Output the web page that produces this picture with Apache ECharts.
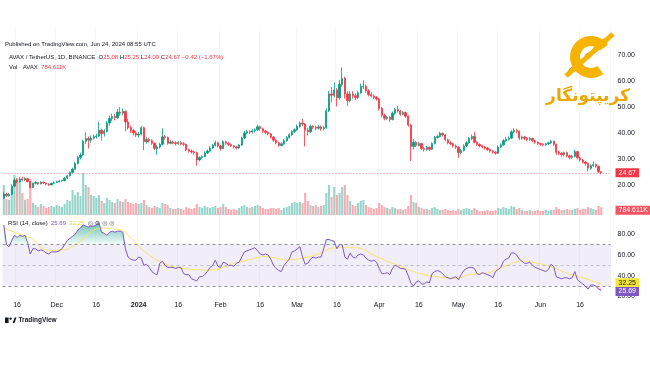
<!DOCTYPE html>
<html><head><meta charset="utf-8">
<script src="https://cdn.jsdelivr.net/npm/echarts@6.0.0/dist/echarts.min.js"></script>
<style>html,body{margin:0;padding:0;background:#fff}#c{width:650px;height:365px}</style>
</head><body><div id="c"></div><script>
// ---- data (AVAX/USDT daily, 2023-11-11 .. 2024-06-24) ----
const startDate = [2023, 10, 11];
const firstOpen = 14.9;
const closes = [
16.5,15.8,16.3,19.5,21.8,21.2,22.3,21.9,22.4,21.3,19.0,20.6,20.9,20.4,21.0,20.7,20.3,20.0,20.6,20.9,
21.2,21.5,21.6,22.6,23.5,24.8,26.0,28.2,30.5,31.5,36.8,37.8,37.2,38.0,38.5,38.8,41.0,39.8,40.6,43.8,45.5,46.3,45.8,48.0,47.6,48.3,44.2,42.0,40.9,40.0,39.2,
39.5,42.0,36.6,37.5,37.0,36.0,34.0,34.6,35.6,38.5,38.2,36.0,36.5,36.2,35.9,36.3,35.8,35.6,33.5,33.0,32.7,32.4,29.6,30.5,30.9,32.3,33.0,34.2,35.2,36.2,35.0,
34.0,36.6,36.0,35.5,35.0,34.6,34.2,35.3,38.0,40.0,40.5,40.3,40.8,41.2,42.4,41.6,40.7,40.2,39.6,38.4,37.2,36.2,35.2,35.8,37.0,38.2,39.3,40.5,41.2,
42.5,43.8,43.4,41.0,40.4,42.5,42.2,41.8,42.3,41.6,42.0,48.5,55.0,54.5,56.5,53.5,58.6,61.0,55.0,52.4,55.0,54.3,53.6,55.4,57.8,58.0,56.2,54.8,54.2,53.6,53.0,
49.5,46.8,45.6,46.0,45.2,47.6,49.0,48.4,47.2,47.8,46.4,43.0,34.8,36.4,35.2,35.9,34.0,33.6,34.4,33.7,35.9,38.2,38.6,39.8,39.2,37.4,36.2,35.8,35.0,34.5,
32.4,33.2,35.0,36.2,37.8,38.6,36.4,35.6,35.0,34.6,34.2,33.6,33.0,32.6,32.2,34.6,35.4,37.0,37.6,38.0,40.4,41.0,40.6,38.0,38.4,37.9,37.5,37.8,37.0,36.4,35.9,
35.6,35.4,35.8,36.2,36.8,35.6,32.6,32.2,31.6,32.4,31.2,30.6,31.0,32.8,30.4,29.6,28.8,28.2,26.4,27.4,27.8,27.2,25.08,24.67];
const highs = [
17.2,17.0,16.9,20.2,22.6,22.4,23.0,23.2,22.9,22.7,21.5,20.9,21.4,21.1,21.4,21.3,20.9,20.6,20.9,21.3,
21.6,21.9,22.0,23.0,23.9,25.2,26.6,28.8,31.2,32.4,37.4,40.2,38.6,39.0,39.4,39.8,44.2,41.6,41.4,44.6,46.6,47.4,47.2,49.2,49.9,49.4,48.6,45.4,42.8,41.6,40.8,
40.4,42.6,42.4,38.4,38.2,37.6,36.4,35.4,36.2,41.8,39.2,38.6,37.2,37.0,36.8,36.9,36.8,36.4,35.9,34.0,33.6,33.2,32.8,31.0,31.4,32.8,33.6,34.8,35.8,37.0,36.6,
35.4,37.2,37.0,36.4,35.9,35.4,35.0,35.8,38.6,40.8,41.2,41.0,41.4,41.8,43.2,42.8,42.0,41.2,40.6,40.0,38.8,37.6,36.6,36.4,37.6,38.8,39.8,41.0,41.8,
43.2,44.4,45.4,43.8,42.0,43.2,43.0,42.8,43.0,42.8,42.6,49.4,56.2,57.6,59.4,57.2,60.4,65.2,61.6,56.0,56.2,56.0,55.2,56.2,59.0,60.2,58.6,56.8,55.6,54.8,54.2,
53.4,50.0,47.4,46.6,46.4,48.2,49.6,50.4,48.8,48.4,48.2,46.8,43.4,37.6,37.0,36.6,36.2,34.6,35.0,34.8,36.4,38.8,39.4,40.4,40.2,39.6,37.8,36.8,36.2,35.6,
34.8,33.8,35.6,36.8,38.4,39.4,40.4,36.8,36.0,35.4,35.0,34.6,34.0,33.4,33.0,35.2,36.0,37.6,38.4,38.6,41.0,41.8,41.6,41.0,39.0,38.8,38.4,38.4,38.2,37.4,36.8,
36.2,36.0,36.2,36.6,37.4,37.0,35.8,33.2,32.6,32.8,32.8,31.6,31.6,33.6,33.0,30.8,30.0,29.2,28.6,28.0,29.0,28.2,27.4,25.25];
const lows = [
14.6,15.4,15.5,16.1,19.2,20.6,20.9,21.4,21.5,21.0,18.6,18.8,20.2,20.0,20.2,20.4,19.8,19.6,19.8,20.4,
20.7,21.0,21.2,21.4,22.3,23.2,24.4,25.8,27.9,29.8,31.0,35.8,34.0,36.2,37.4,37.8,38.4,37.0,38.6,40.2,42.8,44.6,44.8,45.4,46.6,46.8,40.6,41.2,40.0,39.0,38.4,
38.2,39.0,33.4,35.8,36.2,35.4,33.4,31.6,34.0,35.2,37.4,35.4,35.6,35.6,35.2,35.4,35.2,35.0,33.0,32.4,32.0,31.6,27.4,29.0,30.0,30.6,31.8,32.6,33.8,34.8,34.4,
33.2,33.8,35.4,35.0,34.6,34.0,33.6,33.9,35.0,37.6,39.4,39.6,39.8,40.2,40.8,40.8,40.0,39.6,39.0,37.8,36.6,35.6,34.6,34.8,35.4,36.6,37.8,38.8,40.0,
40.8,42.0,42.6,34.8,39.0,40.0,41.4,41.0,41.2,40.8,41.0,41.6,48.0,51.8,53.6,50.2,52.8,57.8,53.2,50.4,51.8,53.2,52.6,53.0,55.0,56.8,55.4,54.0,53.6,53.0,52.4,
48.6,46.0,44.8,45.0,44.2,44.8,47.0,47.8,46.6,46.8,45.8,42.4,29.2,33.6,34.6,34.8,33.4,32.8,33.2,33.0,33.4,35.6,37.8,38.2,38.6,36.8,35.6,35.2,34.4,33.8,
30.4,31.8,32.8,34.6,35.8,37.2,36.0,35.0,34.4,34.0,33.6,33.0,32.4,32.0,31.6,31.9,34.2,35.0,36.6,37.0,37.6,39.8,39.8,37.2,37.4,37.2,36.8,37.0,36.4,35.8,35.4,
35.0,34.8,35.0,35.4,35.8,35.0,31.6,31.4,30.8,31.0,30.6,29.8,30.0,30.6,29.8,29.0,28.2,27.4,25.2,25.8,27.0,26.6,24.6,24.09];
// volume in millions of AVAX
const volumes = [
3.0,1.6,1.5,2.6,4.0,3.7,3.4,2.2,1.5,1.6,3.6,1.2,1.0,0.8,1.1,0.9,0.7,0.8,0.9,0.8,
1.0,0.9,0.8,1.1,1.5,1.4,2.5,2.0,2.3,1.9,4.2,3.0,2.8,2.0,1.9,1.7,2.0,1.4,1.2,1.7,1.5,1.3,1.2,1.6,1.4,1.3,1.6,1.3,1.2,1.1,1.2,
1.1,1.2,1.5,1.0,0.8,0.7,0.9,0.8,0.7,1.2,1.1,1.0,0.7,0.6,0.6,0.7,0.6,0.5,0.8,0.7,0.6,0.7,1.1,0.8,0.7,0.9,0.8,0.7,0.8,0.9,0.7,
0.8,1.1,0.8,0.6,0.5,0.6,0.5,0.7,0.9,1.0,0.8,0.7,0.8,0.9,1.0,0.9,0.7,0.6,0.6,0.7,0.7,0.6,0.7,0.5,0.7,0.8,0.9,1.2,1.3,
1.2,1.3,1.2,2.2,1.4,1.0,0.9,1.0,0.8,0.9,1.0,2.2,3.0,1.8,2.8,2.0,2.2,2.8,3.0,2.0,1.4,1.0,0.9,1.2,1.4,1.5,1.0,0.8,0.7,0.6,0.7,
1.2,1.0,0.8,0.7,0.6,0.8,0.7,0.6,0.6,0.5,0.6,0.9,2.0,1.3,1.2,0.8,0.7,0.6,0.6,0.5,0.7,0.8,0.6,0.5,0.5,0.6,0.5,0.4,0.5,0.4,
0.6,0.5,0.6,0.7,0.6,0.5,0.7,0.5,0.4,0.4,0.4,0.5,0.4,0.4,0.5,0.7,0.6,0.8,0.7,0.6,0.9,0.8,0.6,0.7,0.5,0.4,0.4,0.5,0.4,0.4,0.5,
0.4,0.4,0.5,0.4,0.5,0.5,0.8,0.6,0.5,0.5,0.6,0.5,0.5,0.6,0.7,0.5,0.6,0.6,0.8,0.7,0.6,0.5,0.9,0.784611];
const rsi = [
89,70,68,74,79,77,79,78,79,72,61,66,66,64,65,64,62,61,63,63,
63,64,66,70,74,76,78,80,84,86,89,88,87,88,88,89,91,82,81,79,82,83,82,83,83,82,66,58,56,55,55,
58,57,50,51,48,44,42,41,52,54,50,48,48,48,47,48,48,42,41,41,37,36,35,39,39,41,44,48,50,55,49,
48,53,52,50,50,49,52,53,58,63,64,65,66,67,64,61,60,61,60,56,50,47,45,44,50,53,56,63,64,
66,68,58,51,52,56,58,57,58,58,66,75,75,74,73,66,70,70,58,56,62,58,57,60,61,60,57,55,54,55,53,
47,42,42,43,41,47,50,49,47,47,46,40,33,30,34,35,32,32,34,33,42,44,45,44,42,39,38,37,38,39,
36,41,45,47,48,48,47,42,41,43,42,41,40,38,44,46,48,54,56,57,62,62,60,56,54,52,52,53,50,48,47,
46,45,44,46,51,49,39,38,37,38,38,37,38,44,36,34,32,30,27,31,31,30,27,25.69];
const rsiMa = [
86,85,84,83,82,81,80,79,78,77.5,77,76,73,70,67,65.5,65,64.5,64.5,64.5,
64.5,65,65,65,65.5,67,68.5,70,71.5,73,75.5,78,80.5,82.5,84,85,85.5,86,86,86,85.5,85.5,85,85,84.5,83.5,82,79,76.5,74,71.5,
69,66,64,62,60,58,56.5,55,53.5,52.5,51.5,50.5,49.5,48.5,48,47.5,47,47,46.5,46.5,46,46,46,46,45.5,45.5,45.5,45.5,45.5,45.5,46,
47,48,49,50,51,52,52.5,53,53.5,54,55,55.5,56,57,57.5,58,58.5,58.5,58.5,58,57.5,57,56.5,56,55,55,55.5,55.5,56,
56,56.5,57,57.5,58,58.5,59.5,60,61,62,63,64.5,66,66.5,67,67,67,67.5,67.5,67.5,67,67,67,67,66.5,65.5,64,62.5,61,60,58.5,
57.5,56.5,55,54,53,52,51,50,49,48,47,46,45,44,43,42.5,42,41,40.5,40,39.5,39,39,38.5,38.5,38,38,37.5,37.5,37.5,
38,38.5,39.5,40.5,41,41.5,41.5,42,42,42,42.5,42.5,43.5,44.5,45.5,46.5,47.5,48.5,49.5,50.5,51.5,52.5,53.5,54,54,54,53.5,53.5,53,52.5,52,
51.5,51,50,49.5,48.5,47.5,46.5,45.5,44.5,43.5,42.5,41,40.5,40,39.5,38.5,38,37,36.5,35.5,34.5,34,33,32.25];
const priceTicks = [20, 30, 40, 50, 60, 70];
const rsiTicks = [20, 40, 60, 80];
const timeTicks = [
 ['2023-11-16','16'],['2023-12-01','Dec'],['2023-12-16','16'],['2024-01-01','2024'],['2024-01-16','16'],
 ['2024-02-01','Feb'],['2024-02-16','16'],['2024-03-01','Mar'],['2024-03-16','16'],['2024-04-01','Apr'],
 ['2024-04-16','16'],['2024-05-01','May'],['2024-05-16','16'],['2024-06-01','Jun'],['2024-06-16','16']];
const lastClose = 24.67, lastVol = 0.784611, lastRsi = 25.69, lastRsiMa = 32.25;

// ---- build ----
const N = closes.length;
const dates = [];
for (let i = 0; i < N; i++) {
  const d = new Date(Date.UTC(startDate[0], startDate[1], startDate[2] + i));
  dates.push(d.toISOString().slice(0, 10));
}
const cats = dates.concat(['_p1', '_p2', '_p3']);
const tickMap = {}; timeTicks.forEach(t => tickMap[t[0]] = t[1]);
const opens = closes.map((c, i) => i === 0 ? firstOpen : closes[i - 1]);
const candle = closes.map((c, i) => [opens[i], c, lows[i], highs[i]]);
const UP = '#089981', DN = '#f23645';
const vol = volumes.map((v, i) => ({ value: v, itemStyle: { color: closes[i] >= opens[i] ? 'rgba(8,153,129,0.42)' : 'rgba(242,54,69,0.42)' } }));
const FONT = 'Liberation Sans';
const CLEAR = 'rgba(0,0,0,0)';
const isTick = (idx, val) => tickMap[val] !== undefined;

const chart = echarts.init(document.getElementById('c'), null, { renderer: 'canvas' });
const gl = 2.5, gw = 608;
const xBase = (gi) => ({
  type: 'category', gridIndex: gi, data: cats, boundaryGap: true,
  axisLine: { show: false }, axisTick: { show: false }, axisLabel: { show: false },
  splitLine: { show: gi !== 1, interval: isTick, lineStyle: { color: '#f5f6f8', width: 1 } }
});
const x2 = xBase(2);
x2.axisLabel = {
  show: true, interval: isTick, margin: 5, fontSize: 7, color: '#131722', fontFamily: FONT,
  formatter: v => tickMap[v] === '2024' ? '{b|2024}' : (tickMap[v] || ''),
  rich: { b: { fontWeight: 'bold', fontSize: 7, color: '#131722', fontFamily: FONT } }
};
const tagLabel = (text, bg, fg, off) => ({
  show: true, position: 'end', distance: 5, formatter: text, backgroundColor: bg, color: fg, opacity: 1,
  fontSize: 7, fontFamily: FONT, padding: [1, 3, 1, 3], offset: off || [0, 0]
});

const option = {
  animation: false,
  backgroundColor: '#ffffff',
  grid: [
    { left: gl, width: gw, top: 28.9, height: 182 },
    { left: gl, width: gw, top: 170, height: 45 },
    { left: gl, width: gw, top: 213.6, height: 82.8 }
  ],
  xAxis: [xBase(0), xBase(1), x2],
  yAxis: [
    { type: 'value', gridIndex: 0, position: 'right', min: 10, max: 80, interval: 10,
      axisLine: { show: false }, axisTick: { show: false },
      axisLabel: { margin: 7, fontSize: 7, color: '#131722', fontFamily: FONT,
        formatter: v => priceTicks.indexOf(v) >= 0 ? v.toFixed(2) : '' },
      splitLine: { show: false } },
    { type: 'value', gridIndex: 1, min: 0, max: 4.5, show: false, splitLine: { show: false } },
    { type: 'value', gridIndex: 2, position: 'right', min: 20, max: 100, interval: 20,
      axisLine: { show: false }, axisTick: { show: false },
      axisLabel: { margin: 7, fontSize: 7, color: '#131722', fontFamily: FONT,
        formatter: v => rsiTicks.indexOf(v) >= 0 ? v.toFixed(2) : '' },
      splitLine: { show: false } }
  ],
  series: [
    { type: 'bar', xAxisIndex: 1, yAxisIndex: 1, data: vol, barWidth: '78%', z: 1,
      markLine: { silent: true, symbol: 'none', animation: false,
        data: [{ yAxis: lastVol }],
        lineStyle: { color: CLEAR, width: 0 },
        label: tagLabel('784.611K', '#f7525f', '#ffffff', [0, 3]) } },
    { type: 'candlestick', xAxisIndex: 0, yAxisIndex: 0, data: candle, barWidth: 1.8, z: 3,
      itemStyle: { color: UP, color0: DN, borderColor: UP, borderColor0: DN, borderWidth: 0.8 },
      markLine: { silent: true, symbol: 'none', animation: false,
        data: [{ yAxis: lastClose }],
        lineStyle: { color: 'rgba(242,54,69,0.6)', type: [1, 2], width: 1 },
        label: tagLabel(lastClose.toFixed(2), DN, '#ffffff') } },
    { type: 'line', xAxisIndex: 2, yAxisIndex: 2, data: rsi.map(v => Math.max(v, 70)), symbol: 'none', silent: true,
      lineStyle: { width: 0, color: CLEAR }, z: 2,
      areaStyle: { origin: 70, color: new echarts.graphic.LinearGradient(0, 0, 0, 1, [
        { offset: 0, color: 'rgba(8,153,129,0.85)' }, { offset: 1, color: 'rgba(8,153,129,0.06)' }]) } },
    { type: 'line', xAxisIndex: 2, yAxisIndex: 2, data: rsi.map(v => Math.min(v, 30)), symbol: 'none', silent: true,
      lineStyle: { width: 0, color: CLEAR }, z: 2,
      areaStyle: { origin: 30, color: new echarts.graphic.LinearGradient(0, 0, 0, 1, [
        { offset: 0, color: 'rgba(242,54,69,0.06)' }, { offset: 1, color: 'rgba(242,54,69,0.7)' }]) } },
    { type: 'line', xAxisIndex: 2, yAxisIndex: 2, data: rsiMa, symbol: 'none', z: 3,
      lineStyle: { color: '#f4e56d', width: 1 },
      markLine: { silent: true, symbol: 'none', animation: false,
        data: [{ yAxis: lastRsiMa }], lineStyle: { color: CLEAR, width: 0 },
        label: tagLabel(lastRsiMa.toFixed(2), '#f5e63a', '#131722', [0, -1]) } },
    { type: 'line', xAxisIndex: 2, yAxisIndex: 2, data: rsi, symbol: 'none', z: 4,
      lineStyle: { color: '#7e57c2', width: 1 },
      markArea: { silent: true, itemStyle: { color: 'rgba(126,87,194,0.1)' }, data: [[{ yAxis: 30 }, { yAxis: 70 }]] },
      markLine: { silent: true, symbol: 'none', animation: false,
        data: [
          { yAxis: 70, lineStyle: { color: '#8a8d98', type: [3, 3], width: 1 }, label: { show: false } },
          { yAxis: 50, lineStyle: { color: 'rgba(138,141,152,0.5)', type: [3, 3], width: 1 }, label: { show: false } },
          { yAxis: 30, lineStyle: { color: '#8a8d98', type: [3, 3], width: 1 }, label: { show: false } },
          { yAxis: lastRsi, lineStyle: { color: CLEAR, width: 0 },
            label: tagLabel(lastRsi.toFixed(2), '#7e57c2', '#ffffff', [0, 1]) }
        ] } }
  ],
  graphic: [
    { type: 'text', z: 100, x: 5, y: 44, style: { text: 'Published on TradingView.com, Jun 24, 2024 08:55 UTC', fontSize: 6, fill: '#131722', fontFamily: FONT, verticalAlign: 'middle' } },
    { type: 'text', z: 100, x: 9, y: 57, style: { text: '{g|AVAX / TetherUS, 1D, BINANCE}  {k|O}{r|25.08} {k|H}{r|25.25} {k|L}{r|24.09} {k|C}{r|24.67} {r|\u22120.42 (\u22121.67%)}',
      verticalAlign: 'middle', fontSize: 6, fontFamily: FONT,
      rich: { g: { fill: '#131722', fontSize: 6, fontFamily: FONT }, k: { fill: '#131722', fontSize: 6, fontFamily: FONT }, r: { fill: DN, fontSize: 6, fontFamily: FONT } } } },
    { type: 'text', z: 100, x: 9, y: 67, style: { text: '{g|Vol \u00b7 AVAX}  {r|784.611K}', verticalAlign: 'middle', fontSize: 6, fontFamily: FONT,
      rich: { g: { fill: '#131722', fontSize: 6, fontFamily: FONT }, r: { fill: DN, fontSize: 6, fontFamily: FONT } } } },
    { type: 'text', z: 100, x: 8, y: 223, style: { text: '{g|RSI (14, close)}  {p|25.69}  {y|32.25}  {i|\u25CE \u2699 \u25CE \u25CE}', verticalAlign: 'middle', fontSize: 6, fontFamily: FONT,
      rich: { g: { fill: '#131722', fontSize: 6, fontFamily: FONT }, p: { fill: '#7e57c2', fontSize: 6, fontFamily: FONT },
              y: { fill: '#e6d43a', fontSize: 6, fontFamily: FONT }, i: { fill: '#50535e', fontSize: 6, fontFamily: 'DejaVu Sans' } } } },
    // watermark logo
    { type: 'arc', z: 90, shape: { cx: 591, cy: 57, r: 16, startAngle: Math.PI * 0.3, endAngle: Math.PI * 1.8, clockwise: true },
      style: { stroke: '#f6b400', lineWidth: 10, fill: null } },
    { type: 'line', z: 91, shape: { x1: 566, y1: 76, x2: 613, y2: 34 }, style: { stroke: '#f6b400', lineWidth: 5 } },
    { type: 'group', z: 92, children: [
      { type: 'ellipse', shape: { cx: 572, cy: 70, rx: 3.4, ry: 2.2 }, rotation: 0.72, originX: 572, originY: 70, style: { stroke: '#c88a00', lineWidth: 1, fill: '#f6b400' } },
      { type: 'ellipse', shape: { cx: 580, cy: 63, rx: 3.4, ry: 2.2 }, rotation: 0.72, originX: 580, originY: 63, style: { stroke: '#c88a00', lineWidth: 1, fill: '#f6b400' } },
      { type: 'ellipse', shape: { cx: 588, cy: 56, rx: 3.4, ry: 2.2 }, rotation: 0.72, originX: 588, originY: 56, style: { stroke: '#c88a00', lineWidth: 1, fill: '#f6b400' } },
      { type: 'ellipse', shape: { cx: 596, cy: 49, rx: 3.4, ry: 2.2 }, rotation: 0.72, originX: 596, originY: 49, style: { stroke: '#c88a00', lineWidth: 1, fill: '#f6b400' } },
      { type: 'ellipse', shape: { cx: 604, cy: 42, rx: 3.4, ry: 2.2 }, rotation: 0.72, originX: 604, originY: 42, style: { stroke: '#c88a00', lineWidth: 1, fill: '#f6b400' } }
    ] },
    { type: 'text', z: 90, x: 588, y: 97, style: { text: '\u06A9\u0631\u06CC\u067E\u062A\u0648\u0646\u06AF\u0627\u0631', fontSize: 17, fontWeight: 'bold', fontFamily: 'DejaVu Sans',
      fill: '#eba800', align: 'center', verticalAlign: 'middle' } },
    // TradingView footer
    { type: 'rect', shape: { x: 5, y: 317.5, width: 3.6, height: 5.5 }, style: { fill: '#131722' } },
    { type: 'circle', shape: { cx: 10.6, cy: 318.6, r: 1.2 }, style: { fill: '#131722' } },
    { type: 'polygon', shape: { points: [[12.8, 323], [14.6, 317.5], [16.4, 317.5], [14.6, 323]] }, style: { fill: '#131722' } },
    { type: 'text', x: 18.5, y: 320.3, style: { text: 'TradingView', fontSize: 6.5, fontWeight: 'bold', fill: '#131722', fontFamily: FONT, verticalAlign: 'middle' } }
  ]
};
const lens = [highs.length, lows.length, volumes.length, rsi.length, rsiMa.length];
if (lens.some(l => l !== N)) {
  option.graphic.push({ type: 'text', x: 200, y: 20, style: { text: 'LEN ' + N + ' ' + lens.join(','), fontSize: 12, fill: 'red' } });
}
chart.setOption(option);
</script></body></html>
